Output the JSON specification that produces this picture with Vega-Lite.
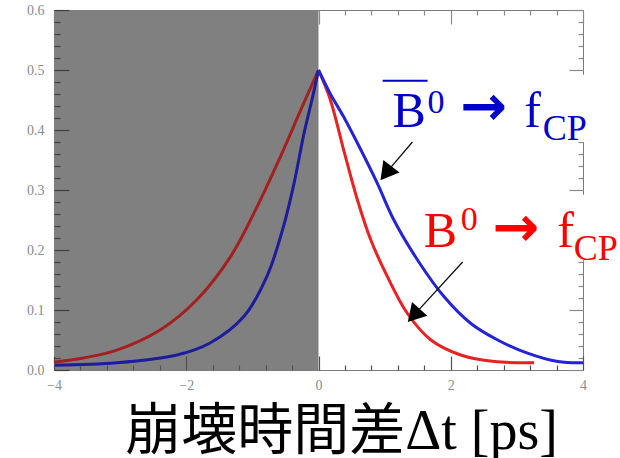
{
  "$schema": "https://vega.github.io/schema/vega-lite/v6.json",
  "width": 529,
  "height": 360,
  "autosize": {"type": "none"},
  "padding": {"left": 54, "top": 10, "right": 37, "bottom": 88},
  "background": "white",
  "config": {"view": {"stroke": "#7a7a7a", "strokeWidth": 1}},
  "datasets": {
    "curves": [
      {"x": -4.0, "y": 0.013, "c": "B0 left", "side": "L"},
      {"x": -3.56, "y": 0.02, "c": "B0 left", "side": "L"},
      {"x": -3.05, "y": 0.033, "c": "B0 left", "side": "L"},
      {"x": -2.39, "y": 0.067, "c": "B0 left", "side": "L"},
      {"x": -1.84, "y": 0.117, "c": "B0 left", "side": "L"},
      {"x": -1.33, "y": 0.189, "c": "B0 left", "side": "L"},
      {"x": -0.93, "y": 0.272, "c": "B0 left", "side": "L"},
      {"x": -0.53, "y": 0.367, "c": "B0 left", "side": "L"},
      {"x": -0.27, "y": 0.433, "c": "B0 left", "side": "L"},
      {"x": 0.0, "y": 0.5, "c": "B0 left", "side": "L"},
      {"x": 0.0, "y": 0.5, "c": "B0 right", "side": "R"},
      {"x": 0.18, "y": 0.45, "c": "B0 right", "side": "R"},
      {"x": 0.38, "y": 0.367, "c": "B0 right", "side": "R"},
      {"x": 0.59, "y": 0.283, "c": "B0 right", "side": "R"},
      {"x": 0.79, "y": 0.217, "c": "B0 right", "side": "R"},
      {"x": 1.04, "y": 0.156, "c": "B0 right", "side": "R"},
      {"x": 1.34, "y": 0.095, "c": "B0 right", "side": "R"},
      {"x": 1.7, "y": 0.05, "c": "B0 right", "side": "R"},
      {"x": 2.15, "y": 0.025, "c": "B0 right", "side": "R"},
      {"x": 2.66, "y": 0.014, "c": "B0 right", "side": "R"},
      {"x": 3.26, "y": 0.012, "c": "B0 right", "side": "R"},
      {"x": -4.0, "y": 0.008, "c": "B0bar left", "side": "L"},
      {"x": -3.05, "y": 0.012, "c": "B0bar left", "side": "L"},
      {"x": -2.14, "y": 0.025, "c": "B0bar left", "side": "L"},
      {"x": -1.64, "y": 0.045, "c": "B0bar left", "side": "L"},
      {"x": -1.13, "y": 0.089, "c": "B0bar left", "side": "L"},
      {"x": -0.78, "y": 0.156, "c": "B0bar left", "side": "L"},
      {"x": -0.53, "y": 0.239, "c": "B0bar left", "side": "L"},
      {"x": -0.37, "y": 0.311, "c": "B0bar left", "side": "L"},
      {"x": -0.22, "y": 0.394, "c": "B0bar left", "side": "L"},
      {"x": -0.1, "y": 0.45, "c": "B0bar left", "side": "L"},
      {"x": 0.0, "y": 0.5, "c": "B0bar left", "side": "L"},
      {"x": 0.0, "y": 0.5, "c": "B0bar right", "side": "R"},
      {"x": 0.18, "y": 0.46, "c": "B0bar right", "side": "R"},
      {"x": 0.38, "y": 0.422, "c": "B0bar right", "side": "R"},
      {"x": 0.64, "y": 0.367, "c": "B0bar right", "side": "R"},
      {"x": 0.89, "y": 0.311, "c": "B0bar right", "side": "R"},
      {"x": 1.14, "y": 0.25, "c": "B0bar right", "side": "R"},
      {"x": 1.5, "y": 0.183, "c": "B0bar right", "side": "R"},
      {"x": 1.9, "y": 0.122, "c": "B0bar right", "side": "R"},
      {"x": 2.3, "y": 0.078, "c": "B0bar right", "side": "R"},
      {"x": 2.71, "y": 0.05, "c": "B0bar right", "side": "R"},
      {"x": 3.16, "y": 0.028, "c": "B0bar right", "side": "R"},
      {"x": 3.62, "y": 0.014, "c": "B0bar right", "side": "R"},
      {"x": 4.0, "y": 0.012, "c": "B0bar right", "side": "R"}
    ],
    "boxes": [
      {"x": 0.97, "x2": 4.08, "y": 0.38, "y2": 0.492},
      {"x": 1.545, "x2": 4.6, "y": 0.183, "y2": 0.292}
    ],
    "pointers": [
      {"x": 1.42, "y": 0.38, "x2": 1.02, "y2": 0.328, "a": 218},
      {"x": 2.18, "y": 0.18, "x2": 1.44, "y2": 0.091, "a": 222}
    ],
    "bigtext": [
      {"x": 1.12, "y": 0.405, "t": "B", "s": "B0bar"},
      {"x": 3.11, "y": 0.405, "t": "f", "s": "B0bar"},
      {"x": 1.59, "y": 0.205, "t": "B", "s": "B0"},
      {"x": 3.61, "y": 0.205, "t": "f", "s": "B0"}
    ],
    "suptext": [
      {"x": 1.65, "y": 0.428, "t": "0", "s": "B0bar"},
      {"x": 2.15, "y": 0.233, "t": "0", "s": "B0"}
    ],
    "subtext": [
      {"x": 3.39, "y": 0.383, "t": "CP", "s": "B0bar"},
      {"x": 3.86, "y": 0.183, "t": "CP", "s": "B0"}
    ],
    "arrowtext": [
      {"x": 2.5, "y": 0.437, "t": "→", "s": "B0bar"},
      {"x": 2.985, "y": 0.235, "t": "→", "s": "B0"}
    ],
    "overline": [
      {"x": 0.97, "x2": 1.65, "y": 0.482}
    ]
  },
  "layer": [
    {
      "data": {"values": [{"x": -4, "x2": 0, "y": 0, "y2": 0.6}]},
      "mark": {"type": "rect", "fill": "#808080"},
      "encoding": {
        "x": {
          "field": "x", "type": "quantitative",
          "scale": {"domain": [-4, 4], "nice": false, "zero": false},
          "axis": {
            "orient": "top", "title": null, "labels": false, "domain": false,
            "offset": -14, "values": [-4, -2, 0, 2, 4],
            "ticks": true, "tickColor": "#8a8a8a", "tickWidth": 1.2, "tickSize": 14, "grid": false
          }
        },
        "x2": {"field": "x2"},
        "y": {
          "field": "y", "type": "quantitative",
          "scale": {"domain": [0, 0.6], "nice": false, "zero": false},
          "axis": {
            "orient": "right", "title": null, "labels": false, "domain": false,
            "offset": -14, "values": [0, 0.1, 0.2, 0.3, 0.4, 0.5, 0.6],
            "ticks": true, "tickColor": "#8a8a8a", "tickWidth": 1.2, "tickSize": 14, "grid": false
          }
        },
        "y2": {"field": "y2"}
      }
    },
    {
      "data": {"name": "curves"},
      "mark": {"type": "line", "strokeWidth": 3, "interpolate": "catmull-rom"},
      "encoding": {
        "x": {
          "field": "x", "type": "quantitative",
          "axis": {
            "orient": "bottom", "zindex": 1, "domain": false, "ticks": false,
            "title": "崩壊時間差Δt [ps]",
            "values": [-4, -2, 0, 2, 4],
            "format": "d",
            "labelOverlap": false,
            "labelFlush": false,
            "labelFont": "Liberation Serif",
            "labelFontSize": 14,
            "labelColor": "#8c8c8c",
            "labelPadding": 8,
            "grid": false,
            "titleFont": "Liberation Serif, Noto Sans CJK JP",
            "titleFontSize": 56,
            "titleFontWeight": "normal",
            "titleColor": "#000000",
            "titleX": 287,
            "titleY": 78,
            "titleBaseline": "alphabetic",
            "titleAlign": "center"
          }
        },
        "y": {
          "field": "y", "type": "quantitative",
          "axis": {
            "orient": "left", "zindex": 1, "domain": false, "ticks": false,
            "title": null,
            "values": [0, 0.1, 0.2, 0.3, 0.4, 0.5, 0.6],
            "format": ".1f",
            "labelOverlap": false,
            "labelFlush": false,
            "labelFont": "Liberation Serif",
            "labelFontSize": 14,
            "labelColor": "#8c8c8c",
            "labelPadding": 10,
            "grid": false
          }
        },
        "color": {
          "field": "c", "type": "nominal",
          "scale": {"domain": ["B0 left", "B0 right", "B0bar left", "B0bar right"], "range": ["#a41f1f", "#e82222", "#1c1c9c", "#2424d6"]},
          "legend": null
        },
        "detail": {"field": "side"}
      }
    },
    {
      "data": {"name": "boxes"},
      "mark": {"type": "rect", "fill": "#ffffff"},
      "encoding": {
        "x": {
          "field": "x", "type": "quantitative",
          "axis": {
            "orient": "bottom", "zindex": 1, "offset": -5, "domain": false,
            "title": null, "labels": false,
            "values": [-3.6, -3.2, -2.8, -2.4, -1.6, -1.2, -0.8, -0.4, 0.4, 0.8, 1.2, 1.6, 2.4, 2.8, 3.2, 3.6],
            "ticks": true, "tickColor": "#505050", "tickWidth": 1.2, "tickSize": 5, "grid": false
          }
        },
        "x2": {"field": "x2"},
        "y": {
          "field": "y", "type": "quantitative",
          "axis": {
            "orient": "left", "zindex": 1, "offset": -6, "domain": false,
            "title": null, "labels": false,
            "values": [0.02, 0.04, 0.06, 0.08, 0.12, 0.14, 0.16, 0.18, 0.22, 0.24, 0.26, 0.28, 0.32, 0.34, 0.36, 0.38, 0.42, 0.44, 0.46, 0.48, 0.52, 0.54, 0.56, 0.58],
            "ticks": true, "tickColor": "#404040", "tickWidth": 1.2, "tickSize": 6, "grid": false
          }
        },
        "y2": {"field": "y2"}
      }
    },
    {
      "data": {"name": "pointers"},
      "mark": {"type": "rule", "color": "#111111", "strokeWidth": 1.3},
      "encoding": {
        "x": {
          "field": "x", "type": "quantitative",
          "axis": {
            "orient": "top", "offset": -5, "domain": false,
            "title": null, "labels": false,
            "values": [-3.6, -3.2, -2.8, -2.4, -1.6, -1.2, -0.8, -0.4, 0.4, 0.8, 1.2, 1.6, 2.4, 2.8, 3.2, 3.6],
            "ticks": true, "tickColor": "#8a8a8a", "tickWidth": 1.2, "tickSize": 5, "grid": false
          }
        },
        "x2": {"field": "x2"},
        "y": {
          "field": "y", "type": "quantitative",
          "axis": {
            "orient": "right", "offset": -5, "domain": false,
            "title": null, "labels": false,
            "values": [0.02, 0.04, 0.06, 0.08, 0.12, 0.14, 0.16, 0.18, 0.22, 0.24, 0.26, 0.28, 0.32, 0.34, 0.36, 0.38, 0.42, 0.44, 0.46, 0.48, 0.52, 0.54, 0.56, 0.58],
            "ticks": true, "tickColor": "#8a8a8a", "tickWidth": 1.2, "tickSize": 5, "grid": false
          }
        },
        "y2": {"field": "y2"}
      }
    },
    {
      "data": {"name": "pointers"},
      "mark": {"type": "point", "shape": "triangle-up", "filled": true, "color": "#000000", "opacity": 1, "size": 420},
      "encoding": {
        "x": {
          "field": "x2", "type": "quantitative",
          "axis": {
            "orient": "bottom", "zindex": 1, "offset": -14, "domain": false,
            "title": null, "labels": false,
            "values": [-4, -2, 0, 2, 4],
            "ticks": true, "tickColor": "#505050", "tickWidth": 1.2, "tickSize": 14, "grid": false
          }
        },
        "y": {
          "field": "y2", "type": "quantitative",
          "axis": {
            "orient": "left", "zindex": 1, "offset": -15, "domain": false,
            "title": null, "labels": false,
            "values": [0, 0.1, 0.2, 0.3, 0.4, 0.5, 0.6],
            "ticks": true, "tickColor": "#404040", "tickWidth": 1.2, "tickSize": 15, "grid": false
          }
        },
        "angle": {"field": "a", "type": "quantitative", "scale": null}
      }
    },
    {
      "data": {"name": "overline"},
      "mark": {"type": "rule", "color": "#0000cc", "strokeWidth": 2},
      "encoding": {
        "x": {"field": "x", "type": "quantitative", "axis": null},
        "x2": {"field": "x2"},
        "y": {"field": "y", "type": "quantitative", "axis": null}
      }
    },
    {
      "data": {"name": "bigtext"},
      "mark": {"type": "text", "font": "Liberation Serif", "fontSize": 50, "align": "left", "baseline": "alphabetic"},
      "encoding": {
        "x": {"field": "x", "type": "quantitative", "axis": null},
        "y": {"field": "y", "type": "quantitative", "axis": null},
        "text": {"field": "t"},
        "color": {"field": "s", "type": "nominal", "scale": {"domain": ["B0", "B0bar"], "range": ["#ff0000", "#0000cc"]}, "legend": null}
      }
    },
    {
      "data": {"name": "suptext"},
      "mark": {"type": "text", "font": "Liberation Serif", "fontSize": 34, "align": "left", "baseline": "alphabetic"},
      "encoding": {
        "x": {"field": "x", "type": "quantitative", "axis": null},
        "y": {"field": "y", "type": "quantitative", "axis": null},
        "text": {"field": "t"},
        "color": {"field": "s", "type": "nominal", "scale": {"domain": ["B0", "B0bar"], "range": ["#ff0000", "#0000cc"]}, "legend": null}
      }
    },
    {
      "data": {"name": "subtext"},
      "mark": {"type": "text", "font": "Liberation Serif", "fontSize": 36, "align": "left", "baseline": "alphabetic"},
      "encoding": {
        "x": {"field": "x", "type": "quantitative", "axis": null},
        "y": {"field": "y", "type": "quantitative", "axis": null},
        "text": {"field": "t"},
        "color": {"field": "s", "type": "nominal", "scale": {"domain": ["B0", "B0bar"], "range": ["#ff0000", "#0000cc"]}, "legend": null}
      }
    },
    {
      "data": {"name": "arrowtext"},
      "mark": {"type": "text", "font": "DejaVu Sans", "fontWeight": "bold", "fontSize": 56, "align": "center", "baseline": "middle"},
      "encoding": {
        "x": {"field": "x", "type": "quantitative", "axis": null},
        "y": {"field": "y", "type": "quantitative", "axis": null},
        "text": {"field": "t"},
        "color": {"field": "s", "type": "nominal", "scale": {"domain": ["B0", "B0bar"], "range": ["#ff0000", "#0000cc"]}, "legend": null}
      }
    }
  ],
  "resolve": {
    "axis": {"x": "independent", "y": "independent"},
    "scale": {"color": "independent"}
  }
}
